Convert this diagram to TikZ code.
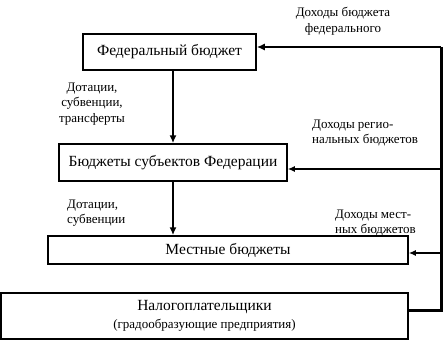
\documentclass[tikz,border=0pt]{standalone}
\usepackage{fontspec}
\setmainfont{Liberation Serif}
\usetikzlibrary{positioning,arrows.meta,calc}

\begin{document}
\begin{tikzpicture}[
  x=1pt, y=-1pt,
  budgetbox/.style={draw, line width=1.5pt, align=center, inner sep=0pt, font=\fontsize{15.5}{17}\selectfont},
  note/.style={inner sep=0pt, font=\fontsize{13}{15.5}\selectfont},
  flow/.style={-{Latex[length=8pt,width=7pt]}, line width=2.8pt},
  inflow/.style={-{Latex[length=7pt,width=6pt]}, line width=2pt},
  trunk/.style={line width=3pt}
]
\useasboundingbox (0,0) rectangle (445,341);
% budgets
\node[budgetbox, minimum width=173pt, minimum height=36pt] (fed) at (169.5,52) {Федеральный бюджет};
\node[budgetbox, minimum width=228pt, minimum height=37pt] (sub) at (173,162.5) {Бюджеты субъектов Федерации};
\node[budgetbox, minimum width=360pt, minimum height=28pt] (loc) at (228,250) {Местные бюджеты};
\node[budgetbox, minimum width=407pt, minimum height=46pt] (tax) at (204.5,316)
  {Налогоплательщики\\[1pt]{\fontsize{13}{14}\selectfont(градообразующие предприятия)}};
% right side trunk
\coordinate (tx) at (408,310);
\coordinate (r0) at (441,310);
\coordinate (j0) at (441,47);
\coordinate (j1) at (441,169);
\coordinate (j2) at (441,253);
\draw[trunk] (tx) -- (r0) -- (j0);
\draw[flow] (j0) -- (j0 -| fed.east);
\draw[inflow] (j1) -- (j1 -| sub.east);
\draw[inflow] (j2) -- (j2 -| loc.east);
% transfers down
\draw[flow] (fed.south -| sub.north) -- (sub.north);
\draw[flow] (sub.south) -- (sub.south |- loc.north);
% labels
\node[note, align=center] (lfed) at (343,21) {Доходы бюджета\\федерального};
\node[note, align=center] (ltr1) at (92,104) {Дотации,\\субвенции,\\трансферты};
\node[note, align=left, anchor=west] (lreg) at (312,133) {Доходы регио-\\нальных бюджетов};
\node[note, align=left, anchor=west] (ltr2) at (67,213) {Дотации,\\субвенции};
\node[note, align=left, anchor=west] (lmun) at (335,223) {Доходы мест-\\ных бюджетов};
\end{tikzpicture}
\end{document}
